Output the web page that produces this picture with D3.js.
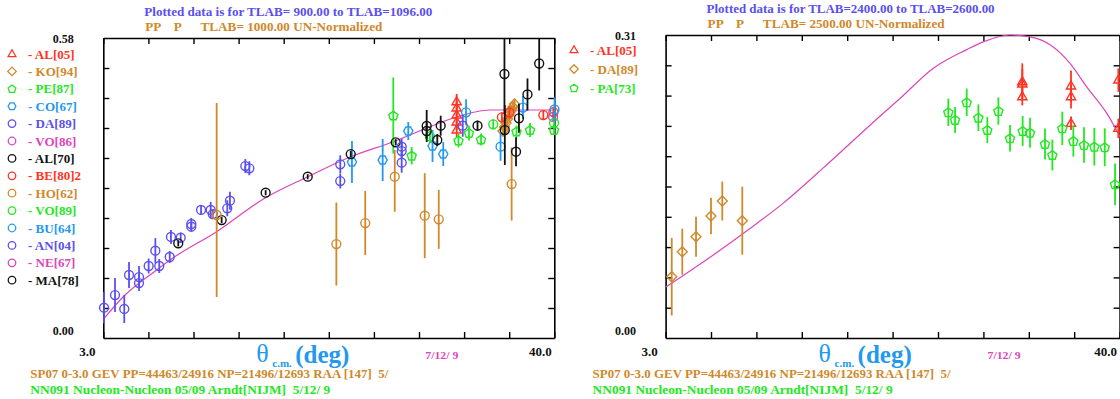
<!DOCTYPE html>
<html><head><meta charset="utf-8">
<script src="https://cdn.jsdelivr.net/npm/d3@7"></script>
<style>
html,body{margin:0;padding:0;background:#fff;}
svg text{font-family:"Liberation Serif","Times New Roman",serif;font-weight:bold;white-space:pre;}
</style></head><body>
<svg id="c" width="1120" height="399"></svg>
<script>
// ---------- DATA ----------
const xTicks = [3.0, 6.7, 10.4, 14.1, 17.8, 21.5, 25.2, 28.9, 32.6, 36.3, 40.0];
const leftYTicks = [0.058, 0.116, 0.174, 0.232, 0.290, 0.348, 0.406, 0.464, 0.522];
const rightYTicks = [0.031, 0.062, 0.093, 0.124, 0.155, 0.186, 0.217, 0.248, 0.279];

// left panel (TLAB 1000): [deg, value, errUp, errDown]
const AL05 = [[31.99,0.4568,0.015],[31.99,0.4447,0.015],[31.99,0.4311,0.015],[31.99,0.4176,0.015],[31.99,0.4021,0.015]];
const KO94 = [[35.79,0.4002,0.010],[35.91,0.4079,0.010],[36.04,0.4157,0.010],[36.16,0.4234,0.010],[36.28,0.4311,0.010],[36.45,0.4389,0.010],[36.61,0.4466,0.010],[36.74,0.4524,0.010]];
const PE87 = [[26.79,0.4302,0.0735],[28.30,0.3524,0.0168],[32.14,0.3818,0.0135],[33.00,0.3963,0.0145],[33.99,0.3838,0.0116],[36.90,0.3992,0.0116],[38.01,0.4021,0.0135],[39.98,0.4021,0.0097]];
const CO67 = [[23.40,0.3403,0.0406],[25.92,0.3441,0.0406],[28.02,0.4002,0.0174],[30.01,0.3712,0.0309],[30.89,0.3557,0.0232]];
const DA89 = [[3.06,0.0586,0.0304],[3.96,0.0831,0.0329],[4.72,0.0561,0.0271],[5.11,0.1218,0.0251],[5.93,0.1179,0.0213],[5.93,0.1063,0.0155],[6.72,0.1392,0.0145],[7.27,0.1688,0.0242],[7.59,0.1392,0.0135],[8.45,0.1566,0.0116],[8.55,0.1953,0.0135],[9.35,0.1939,0.0097],[10.22,0.2204,0.0116],[10.22,0.2152,0.0097],[11.02,0.2475,0.0097],[11.81,0.2475,0.0155],[11.98,0.2397,0.0097],[13.17,0.2508,0.0155],[13.39,0.2654,0.0174],[14.65,0.3325,0.0135],[14.98,0.3281,0.0135]];
const VO86 = [[39.90,0.4273,0.008]];
const AL70 = [[9.15,0.1831,0.006],[12.71,0.2281,0.006],[16.32,0.2809,0.005],[19.77,0.3118,0.005],[23.30,0.3557,0.006],[26.99,0.3784,0.006]];
const BE80 = [[35.70,0.4267,0.0097],[36.32,0.4360,0.0116],[39.10,0.4311,0.0097],[39.93,0.4369,0.0097]];
const HO62 = [[12.30,0.2378,0.2165,0.1585],[22.12,0.1817,0.0802],[24.49,0.2223,0.0619],[26.91,0.3118,0.0516,0.0677],[29.37,0.2364,0.0822],[30.52,0.2295,0.057],[36.50,0.2977,0.0706]];
const VO89 = [[29.80,0.3896,0.0116],[34.99,0.4132,0.0097],[39.98,0.4157,0.0097]];
const BU64 = [[32.76,0.4364,0.0251],[35.59,0.3698,0.0271],[37.43,0.4456,0.0222],[40.02,0.4418,0.0232]];
const AN04 = [[22.44,0.3358,0.0174],[22.44,0.3035,0.0145],[27.48,0.3698,0.0155],[27.48,0.3615,0.0155],[27.48,0.3389,0.0193],[32.49,0.4104,0.0213]];
const NE67 = [];
const MA78 = [[29.53,0.4099,0.031],[29.53,0.4002,0.0155],[30.40,0.3828,0.0116],[30.68,0.4104,0.0193],[33.70,0.4104,0.0097],[35.91,0.5104,0.0696,0.0773],[35.94,0.4021,0.0483,0.0677],[36.86,0.3602,0.028],[37.10,0.4248,0.028],[37.80,0.4708,0.031],[38.76,0.5307,0.0483,0.0522]];
const leftCurve = [[3.0,0.0362],[4.64,0.0798],[7.38,0.1315],[8.47,0.1508],[12.30,0.2055],[16.27,0.2707],[19.77,0.3118],[23.30,0.3505],[26.79,0.3795],[29.80,0.4085],[30.62,0.4162],[32.26,0.4292],[33.49,0.4369],[34.72,0.4408],[40.0,0.4408]];

// right panel (TLAB 2500)
const AL05R = [[32.07,0.2622,0.0188],[32.07,0.2598,0.015],[32.07,0.2469,0.0089],[36.04,0.2578,0.016],[36.04,0.2469,0.012],[36.04,0.2196,0.0069],[39.90,0.2639,0.012],[39.90,0.2145,0.010]];
const DA89R = [[3.50,0.0627,0.0397],[4.36,0.0883,0.0235],[5.48,0.1036,0.0205],[6.70,0.1248,0.0186],[7.62,0.1401,0.0199],[9.25,0.1200,0.0348]];
const PA73R = [[26.04,0.2309,0.0140],[26.59,0.2230,0.0133],[27.54,0.2411,0.0140],[28.49,0.2254,0.0136],[29.22,0.2128,0.0133],[30.12,0.2322,0.0140],[31.07,0.2043,0.0136],[32.10,0.2118,0.0153],[32.70,0.2100,0.0153],[33.92,0.1985,0.0159],[34.52,0.1872,0.0157],[35.33,0.2145,0.0171],[36.23,0.2015,0.0159],[37.10,0.1974,0.0181],[37.94,0.1957,0.0193],[38.79,0.1951,0.0194],[39.63,0.1572,0.0213]];
const rightCurve = [[3.0,0.052],[6.89,0.085],[9.88,0.112],[12.59,0.138],[15.85,0.174],[18.03,0.199],[20.74,0.230],[22.10,0.245],[24.82,0.276],[27.54,0.295],[28.89,0.303],[31.07,0.310],[32.70,0.308],[34.33,0.300],[35.96,0.281],[37.32,0.257],[38.95,0.230],[40.03,0.206]];

const C = {red:"#ff3322", orange:"#d0882a", green:"#22e822", lblue:"#2299ee", blue:"#5a4ff0", mag:"#dd44bb", black:"#111111"};

const leftSeries = [
  {name:"AL[05]", data:AL05, color:C.red, sym:"tri"},
  {name:"KO[94]", data:KO94, color:C.orange, sym:"dia"},
  {name:"PE[87]", data:PE87, color:C.green, sym:"pent"},
  {name:"CO[67]", data:CO67, color:C.lblue, sym:"hex"},
  {name:"DA[89]", data:DA89, color:C.blue, sym:"circ"},
  {name:"VO[86]", data:VO86, color:C.mag, sym:"circ"},
  {name:"AL[70]", data:AL70, color:C.black, sym:"circ"},
  {name:"BE[80]2", data:BE80, color:C.red, sym:"circ"},
  {name:"HO[62]", data:HO62, color:C.orange, sym:"circ"},
  {name:"VO[89]", data:VO89, color:C.green, sym:"circ"},
  {name:"BU[64]", data:BU64, color:C.lblue, sym:"circ"},
  {name:"AN[04]", data:AN04, color:C.blue, sym:"circ"},
  {name:"NE[67]", data:NE67, color:C.mag, sym:"circ"},
  {name:"MA[78]", data:MA78, color:C.black, sym:"circ"}
];
const rightSeries = [
  {name:"AL[05]", data:AL05R, color:C.red, sym:"tri"},
  {name:"DA[89]", data:DA89R, color:C.orange, sym:"dia"},
  {name:"PA[73]", data:PA73R, color:C.green, sym:"pent"}
];

// ---------- DRAWING ----------
const svg = d3.select("#c");

function symPath(sym){
  if(sym==="tri") return "M0,-5L4.6,3L-4.6,3Z";
  if(sym==="dia") return "M0,-5L5,0L0,5L-5,0Z";
  if(sym==="pent"){ const p=d3.range(5).map(i=>{const a=-Math.PI/2+i*2*Math.PI/5;return [4.8*Math.cos(a),4.8*Math.sin(a)+0.4];}); return "M"+p.join("L")+"Z"; }
  if(sym==="hex"){ const p=d3.range(6).map(i=>{const a=i*Math.PI/3;return [4.6*Math.cos(a),4.6*Math.sin(a)];}); return "M"+p.join("L")+"Z"; }
  return d3.symbol(d3.symbolCircle, 62)();
}

function text(g,x,y,s,size,color,anchor,len,weight){
  const t=g.append("text").attr("x",x).attr("y",y).attr("font-size",size).attr("fill",color).attr("text-anchor",anchor||"start").text(s);
  if(len) t.attr("textLength",len).attr("lengthAdjust","spacingAndGlyphs");
  if(weight) t.style("font-weight",weight);
  return t;
}

function panel(cfg){
  const g = svg.append("g");
  const x = d3.scaleLinear().domain([3,40]).range([cfg.left,cfg.right]);
  const y = d3.scaleLinear().domain([0,cfg.ymax]).range([cfg.bottom,cfg.top]);
  const ts = 6;
  const axes = [
    g.append("g").attr("transform",`translate(0,${cfg.bottom})`).call(d3.axisTop(x).tickValues(xTicks).tickSize(ts).tickSizeOuter(0).tickFormat("")),
    g.append("g").attr("transform",`translate(0,${cfg.top})`).call(d3.axisBottom(x).tickValues(xTicks).tickSize(ts).tickSizeOuter(0).tickFormat("")),
    g.append("g").attr("transform",`translate(${cfg.left},0)`).call(d3.axisRight(y).tickValues(cfg.yTicks).tickSize(ts).tickSizeOuter(0).tickFormat("")),
    g.append("g").attr("transform",`translate(${cfg.right},0)`).call(d3.axisLeft(y).tickValues(cfg.yTicks).tickSize(ts).tickSizeOuter(0).tickFormat(""))
  ];
  axes.forEach(a=>{a.selectAll("path").attr("stroke","#000").attr("stroke-width",1.6);a.selectAll("line").attr("stroke","#000").attr("stroke-width",1.4);});

  // theory curve
  g.append("path").datum(cfg.curve).attr("fill","none").attr("stroke",C.mag).attr("stroke-width",1.2)
   .attr("d",d3.line().x(d=>x(d[0])).y(d=>y(d[1])).curve(d3.curveMonotoneX));

  // data
  cfg.series.forEach(s=>{
    const sg=g.append("g");
    sg.selectAll("line").data(s.data).enter().append("line")
      .attr("x1",d=>x(d[0])).attr("x2",d=>x(d[0]))
      .attr("y1",d=>y(d[1]+d[2])).attr("y2",d=>y(d[1]-(d.length>3?d[3]:d[2])))
      .attr("stroke",s.color).attr("stroke-width",1.8);
    sg.selectAll("path").data(s.data).enter().append("path")
      .attr("d",symPath(s.sym)).attr("transform",d=>`translate(${x(d[0])},${y(d[1])})`)
      .attr("fill","none").attr("stroke",s.color).attr("stroke-width",1.4);
  });

  // legend
  cfg.series.forEach((s,i)=>{
    const ly = cfg.legY + i*cfg.legStep;
    g.append("path").attr("d",symPath(s.sym)).attr("transform",`translate(${cfg.legX},${ly}) scale(0.85)`)
      .attr("fill","none").attr("stroke",s.color).attr("stroke-width",1.5);
    text(g,cfg.legX+16,ly+4.5,"- "+s.name,13,s.color);
  });

  // labels
  const L=cfg.left;
  text(g,L-40,cfg.top+5,cfg.ymaxLabel,12,"#111","middle");
  text(g,L-40,cfg.bottom-3,"0.00",12,"#111","middle");
  text(g,L-16,cfg.bottom+18,"3.0",13,"#111","middle");
  text(g,cfg.right-14,cfg.bottom+18,"40.0",13,"#111","middle");
  text(g,L+41,cfg.top-22,cfg.title1,13,C.blue,"start",288);
  text(g,L+42,cfg.top-7,cfg.title2,13,C.orange,"start",237);
  // axis title
  text(g,L+153,cfg.bottom+24,"θ",26,C.lblue,"start",null,"normal");
  text(g,L+169,cfg.bottom+29,"c.m.",11,C.lblue,"start");
  text(g,L+192,cfg.bottom+25,"(deg)",25,C.lblue,"start");
  text(g,L+322,cfg.bottom+21,"7/12/ 9",11,C.mag,"start",33);
  text(g,L-73,cfg.bottom+40,"SP07 0-3.0 GEV PP=44463/24916 NP=21496/12693 RAA [147]  5/",12,C.orange,"start",358);
  text(g,L-73,cfg.bottom+56,"NN091 Nucleon-Nucleon 05/09 Arndt[NIJM]  5/12/ 9",12,C.green,"start",300);
}

panel({left:103.3,right:554.3,top:38,bottom:338,ymax:0.58,yTicks:leftYTicks,curve:leftCurve,series:leftSeries,
  legX:12,legY:54,legStep:17.4,ymaxLabel:"0.58",
  title1:"Plotted data is for TLAB= 900.00 to TLAB=1096.00",title2:"PP    P      TLAB= 1000.00 UN-Normalized"});
panel({left:665.6,right:1119.6,top:35,bottom:338,ymax:0.31,yTicks:rightYTicks,curve:rightCurve,series:rightSeries,
  legX:574,legY:50,legStep:19,ymaxLabel:"0.31",
  title1:"Plotted data is for TLAB=2400.00 to TLAB=2600.00",title2:"PP    P      TLAB= 2500.00 UN-Normalized"});
</script>
</body></html>
